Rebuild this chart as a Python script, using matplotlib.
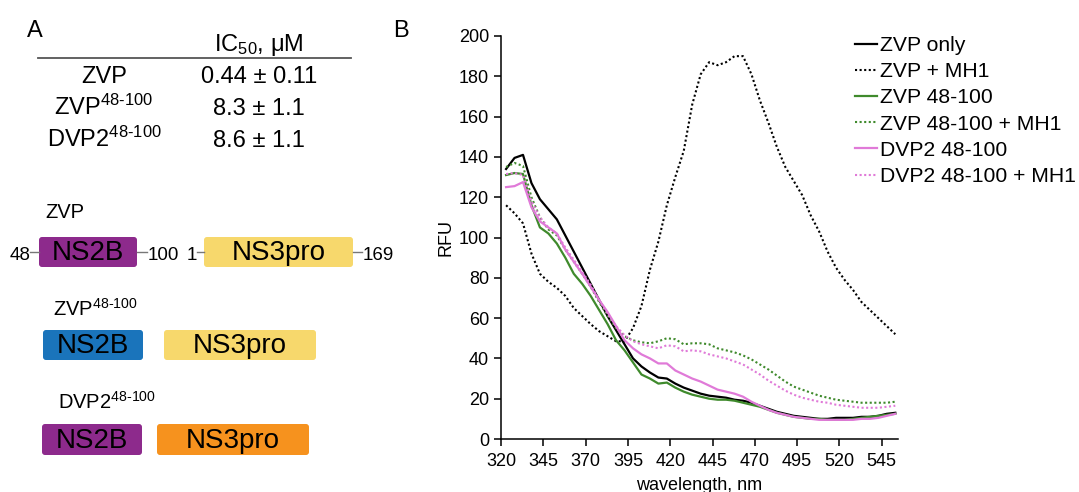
import matplotlib.pyplot as plt
from matplotlib.patches import FancyBboxPatch

plt.rcParams['font.family'] = ['Liberation Sans', 'DejaVu Sans']
plt.rcParams['mathtext.fontset'] = 'custom'
plt.rcParams['mathtext.rm'] = 'Liberation Sans'
plt.rcParams['mathtext.it'] = 'Liberation Sans:italic'
plt.rcParams['mathtext.bf'] = 'Liberation Sans:bold'

# --- panel B data ---
wavelength = list(range(323, 554, 5))

zvp_only = [134, 139.5, 141, 127, 119, 114, 109, 101, 93, 85,
            77, 69, 61, 54, 47, 40, 36, 33, 30.5, 30,
            27.5, 25.5, 24, 22.5, 21.5, 21, 20.5, 19.5, 19, 18,
            16.5, 15, 13.5, 12.5, 11.5, 11, 10.5, 10, 10, 10.5,
            10.5, 10.5, 11, 11, 11.5, 12.5, 13]
zvp_mh1 = [116, 112, 107, 92, 82, 78, 75, 71, 65, 61,
           57, 53.5, 51, 48.5, 48.5, 55, 66, 84, 98, 116,
           130, 143, 166, 181, 187, 185.5, 187, 190, 190, 181,
           168, 157, 145, 135, 128, 121, 111, 103, 93, 85,
           79, 74, 68, 64, 60, 56, 52]
zvp48 = [131, 132, 131.5, 116, 105, 102, 97, 90, 82, 77,
         71, 64, 57, 49, 44, 38, 32, 30, 27.5, 28,
         25.5, 23.5, 22, 21, 20, 19.5, 19.5, 19, 18, 17,
         16, 14.5, 13, 12, 11, 10.5, 10, 10, 9.5, 9.5,
         9.5, 10, 10.5, 11, 11.5, 12, 12.5]
zvp48_mh1 = [135, 137, 135.5, 120, 110, 104, 101, 94, 88, 82,
             75.5, 68, 61, 55, 51, 49, 48, 47.5, 48.5, 50,
             49.5, 47, 47.5, 47.5, 47, 45, 44, 43, 41.5, 39.5,
             37, 34.5, 31.5, 28.5, 26, 24.5, 23, 21.5, 20.5, 19.5,
             19, 18.5, 18, 18, 18, 18, 18.5]
dvp48 = [125, 125.5, 127.5, 115, 108, 105, 102, 94, 88, 82,
         75.5, 69, 63, 56, 49, 45, 42, 40, 37.5, 37.5,
         34, 32, 30, 28.5, 26.5, 24.5, 23.5, 22.5, 21, 18.5,
         16.5, 14.5, 13, 12, 11, 10.5, 10, 9.5, 9.5, 9.5,
         9.5, 9.5, 10, 10, 10.5, 11.5, 12.5]
dvp48_mh1 = [131.5, 132, 131, 118, 110, 105, 102, 95, 89, 83,
             76.5, 69, 62, 56, 51.5, 48.5, 47, 46, 45, 46.5,
             46, 43.5, 44, 43.5, 42, 41, 40, 38.5, 37, 34.5,
             32, 29, 26.5, 24, 22, 20.5, 19.5, 18.5, 18, 17,
             16.5, 16, 15.5, 15.5, 15.5, 16, 16.5]

x_ticks = list(range(320, 546, 25))
y_ticks = list(range(0, 201, 20))

# --- panel A data ---
table_names = ['ZVP', r'ZVP$^{\text{48-100}}$', r'DVP2$^{\text{48-100}}$']
table_ic50 = ['0.44 ± 0.11', '8.3 ± 1.1', '8.6 ± 1.1']

purple = '#8d2a8c'
yellow = '#f7d86c'
blue = '#1a74bb'
orange = '#f6921e'
green = '#3f8a2c'
pink = '#e07ad8'

fig = plt.figure(figsize=(10.79, 4.92), dpi=100)

# left panel drawn in pixel coordinates
ax0 = fig.add_axes([0, 0, 1, 1])
ax0.set_xlim(0, 1079)
ax0.set_ylim(492, 0)
ax0.axis('off')

ax0.text(27, 37, 'A', fontsize=17, va='baseline')
ax0.text(393, 37, 'B', fontsize=17, va='baseline')

ax0.text(259, 51, r'IC$_{\mathrm{50}}$, μM', fontsize=17, ha='center', va='baseline')
ax0.plot([38, 351], [58, 58], color='#555555', lw=1.3)
for i, (n, v) in enumerate(zip(table_names, table_ic50)):
    yb = 83 + i * 32
    ax0.text(104, yb, n, fontsize=17, ha='center', va='baseline')
    ax0.text(259, yb, v, fontsize=17, ha='center', va='baseline')


def box(x0, x1, y0, y1, color, label):
    p = FancyBboxPatch((x0, y0), x1 - x0, y1 - y0,
                       boxstyle='round,pad=0,rounding_size=3',
                       fc=color, ec='none')
    ax0.add_patch(p)
    ax0.text((x0 + x1) / 2, (y0 + y1) / 2 + 1, label, fontsize=20,
             ha='center', va='center')


# ZVP
ax0.text(45, 218, 'ZVP', fontsize=14.5, va='baseline')
box(39, 137, 237, 267, purple, 'NS2B')
box(204, 353, 237, 267, yellow, 'NS3pro')
ax0.plot([30, 39], [252, 252], color='#777777', lw=1)
ax0.plot([137, 147], [252, 252], color='#777777', lw=1)
ax0.plot([197, 204], [252, 252], color='#777777', lw=1)
ax0.plot([353, 362], [252, 252], color='#777777', lw=1)
ax0.text(30, 260, '48', fontsize=13.5, ha='right', va='baseline')
ax0.text(147.5, 260, '100', fontsize=13.5, ha='left', va='baseline')
ax0.text(197, 260, '1', fontsize=13.5, ha='right', va='baseline')
ax0.text(363, 260, '169', fontsize=13.5, ha='left', va='baseline')

# ZVP 48-100
ax0.text(53, 316, r'ZVP$^{\text{48-100}}$', fontsize=14.5, va='baseline')
box(43, 143, 330, 360, blue, 'NS2B')
box(164, 316, 330, 360, yellow, 'NS3pro')

# DVP2 48-100
ax0.text(58, 409, r'DVP2$^{\text{48-100}}$', fontsize=14.5, va='baseline')
box(42, 142, 424, 455, purple, 'NS2B')
box(157, 309, 424, 455, orange, 'NS3pro')

# right panel
ax = fig.add_axes([501 / 1079, 1 - 439 / 492, 397 / 1079, 403 / 492])
dot = (0, (1, 1.2))
ax.plot(wavelength, zvp_only, color='black', lw=1.6, label='ZVP only')
ax.plot(wavelength, zvp_mh1, color='black', lw=1.5, ls=dot, label='ZVP + MH1')
ax.plot(wavelength, zvp48, color=green, lw=1.6, label='ZVP 48-100')
ax.plot(wavelength, zvp48_mh1, color=green, lw=1.5, ls=dot, label='ZVP 48-100 + MH1')
ax.plot(wavelength, dvp48, color=pink, lw=1.6, label='DVP2 48-100')
ax.plot(wavelength, dvp48_mh1, color=pink, lw=1.5, ls=dot, label='DVP2 48-100 + MH1')

ax.set_xlim(320, 554.6)
ax.set_ylim(0, 200)
ax.set_xticks(x_ticks)
ax.set_yticks(y_ticks)
for s in ['top', 'right']:
    ax.spines[s].set_visible(False)
for s in ['left', 'bottom']:
    ax.spines[s].set_linewidth(1.1)
ax.tick_params(direction='out', length=5, width=1.1, labelsize=13)
ax.tick_params(axis='x', pad=5)
ax.set_xlabel('wavelength, nm', fontsize=13, labelpad=5)
ax.set_ylabel('RFU', fontsize=13, labelpad=3)

fig.legend(loc='upper left', bbox_to_anchor=(855 / 1079, 1 - 36 / 492),
           frameon=False, fontsize=15.2, handlelength=1.05, handletextpad=0.15,
           labelspacing=0.34, borderpad=0, borderaxespad=0)

fig.savefig('out.png', dpi=100)
